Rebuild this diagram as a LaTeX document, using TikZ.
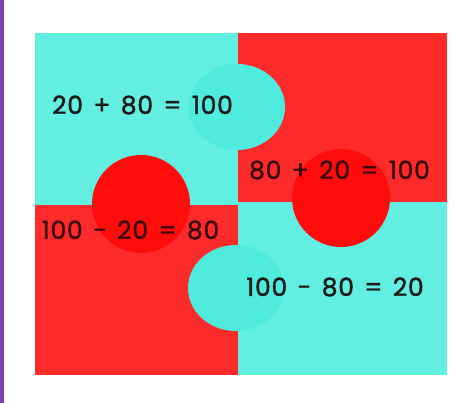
\documentclass[tikz,border=0pt]{standalone}
\usepackage{fontspec}
\setmainfont{Poppins}
\newfontfamily\eqfont{Poppins}[FakeBold=1.5, LetterSpace=3, WordSpace=1.4]
\definecolor{pzred}{HTML}{FF2B2B}
\definecolor{pzredc}{HTML}{FF0D0D}
\definecolor{pzcyan}{HTML}{62EEE0}
\definecolor{pzcyanc}{HTML}{4EEBDE}
\definecolor{pzpurple}{HTML}{7B3FB0}
\definecolor{txtdark}{HTML}{1A1A1A}
\definecolor{txtred}{HTML}{3A0606}
\begin{document}
\begin{tikzpicture}[x=1pt,y=-1pt,
  eq/.style={font=\eqfont\fontsize{25}{29}\selectfont, text=txtdark, inner sep=0pt, anchor=center},
  eqr/.style={eq, text=txtred}]
\useasboundingbox (0,0) rectangle (463,403);
\fill[white] (0,0) rectangle (463,403);
\fill[pzpurple] (0,0) rectangle (3.5,403);
% pieces
\fill[pzcyan] (35,33) rectangle (238,205);
\fill[pzred] (238,33) rectangle (447,202);
\fill[pzred] (35,205) rectangle (238,375);
\fill[pzcyan] (238,202) rectangle (447,375);
% tabs
\fill[pzcyanc] (237,107) ellipse [x radius=48, y radius=43];
\fill[pzredc] (141,204) circle (49);
\fill[pzredc] (341,198) circle (49);
\fill[pzcyanc] (236,288) ellipse [x radius=48, y radius=43];
% equations
\node[eq]  (e1) at (142.5,105) {20 + 80 = 100};
\node[eqr] (e2) at (339.5,170) {80 + 20 = 100};
\node[eqr] (e3) at (130.5,230) {100 - 20 = 80};
\node[eq]  (e4) at (335,287) {100 - 80 = 20};
\end{tikzpicture}
\end{document}
